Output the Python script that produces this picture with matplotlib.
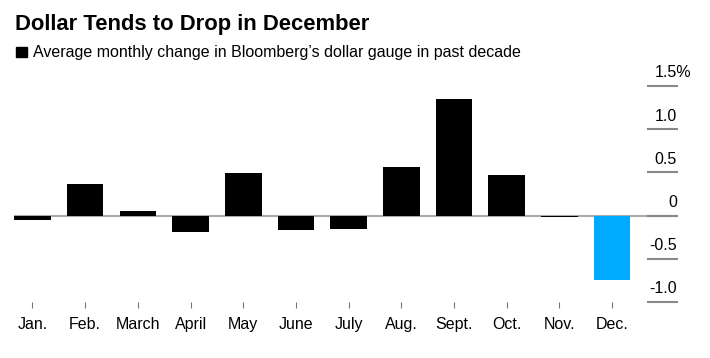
import matplotlib
matplotlib.use("Agg")
import matplotlib.pyplot as plt
from matplotlib.patches import Rectangle

months = ["Jan.", "Feb.", "March", "April", "May", "June",
          "July", "Aug.", "Sept.", "Oct.", "Nov.", "Dec."]
changes = [-0.05, 0.37, 0.05, -0.185, 0.49, -0.165,
           -0.15, 0.56, 1.345, 0.47, -0.015, -0.74]
ytick_vals = [1.5, 1.0, 0.5, 0, -0.5, -1.0]
ytick_text = ["1.5%", "1.0", "0.5", "0", "-0.5", "-1.0"]

title = "Dollar Tends to Drop in December"
subtitle = "Average monthly change in Bloomberg\u2019s dollar gauge in past decade"

plt.rcParams['font.family'] = ['Liberation Sans', 'DejaVu Sans']

W, H = 710, 358
fig = plt.figure(figsize=(W / 100, H / 100), dpi=100)

# axes placed in pixel terms: x 14..677, y 86 (1.5) .. 302 (-1.0)
ax = fig.add_axes([14 / W, (H - 302) / H, 663 / W, 216 / H])
ax.set_xlim(-0.35, 12.23)
ax.set_ylim(-1.0, 1.5)
for s in ax.spines.values():
    s.set_visible(False)

colors = ['black'] * 11 + ['#00aaff']
ax.axhline(0, color='#aaaaaa', lw=1.5, zorder=1)
ax.bar(range(len(months)), changes, width=0.695, color=colors, zorder=2)

ax.set_xticks(range(len(months)))
ax.set_xticklabels(months, fontsize=11.5)
ax.tick_params(axis='x', length=4.3, width=0.8, color='#777777', pad=6.5)
ax.set_yticks([])

# right side value ticks: short gray lines with labels above
for v, t in zip(ytick_vals, ytick_text):
    ax.plot([0.956, 1.0], [v, v], transform=ax.get_yaxis_transform(),
            color='#888888', lw=1.5, clip_on=False, zorder=1)
    if t.endswith('%'):
        # keep the number right-aligned with the others, % hangs past the edge
        ax.annotate(t, xy=(1.0, v), xycoords=('axes fraction', 'data'),
                    xytext=(-16, 4), textcoords='offset points',
                    ha='left', va='bottom', fontsize=11.5)
    else:
        ax.annotate(t, xy=(1.0, v), xycoords=('axes fraction', 'data'),
                    xytext=(0, 4), textcoords='offset points',
                    ha='right', va='bottom', fontsize=11.5)

fig.text(15 / W, 1 - 30 / H, title, fontsize=15.8, fontweight='bold',
         va='baseline', ha='left')
fig.patches.append(Rectangle((16 / W, 1 - 57.3 / H), 10.5 / W, 10.6 / H,
                             transform=fig.transFigure, color='black'))
fig.text(33 / W, 1 - 57.5 / H, subtitle, fontsize=11.5, va='baseline', ha='left')

fig.savefig("out.png", dpi=100)
